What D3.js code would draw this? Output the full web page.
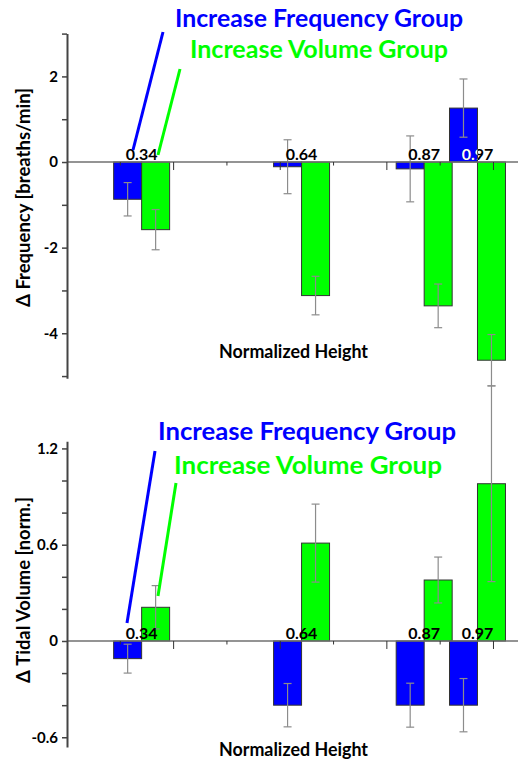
<!DOCTYPE html>
<html>
<head>
<meta charset="utf-8">
<script src="https://cdn.jsdelivr.net/npm/d3@7"></script>
<style>
  body { margin: 0; background: #fff; }
  svg { display: block; font-family: Lato, "Open Sans", sans-serif; }
</style>
</head>
<body>
<div id="chart"></div>
<script>
// normalized height of each group
var heights = [0.34, 0.64, 0.87, 0.97];
var heightLabels = ['0.34', '0.64', '0.87', '0.97'];

// frequency change (breaths/min)
var freqIncFreq = [-0.87, -0.11, -0.16, 1.26];
var freqIncFreqErr = [0.39, 0.63, 0.77, 0.68];
var freqIncVol = [-1.58, -3.12, -3.36, -4.63];
var freqIncVolErr = [0.47, 0.45, 0.51, 0.60];
var freqTicks = [-5, -4, -3, -2, -1, 0, 1, 2, 3];
var freqTickLabels = ['', '-4', '', '-2', '', '0', '', '2', ''];

// tidal volume change (normalized)
var tvIncFreq = [-0.11, -0.40, -0.40, -0.40];
var tvIncFreqErr = [0.09, 0.135, 0.137, 0.166];
var tvIncVol = [0.21, 0.61, 0.38, 0.98];
var tvIncVolErr = [0.135, 0.243, 0.143, 0.61];
var tvTicks = [-0.6, -0.4, -0.2, 0, 0.2, 0.4, 0.6, 0.8, 1.0, 1.2];
var tvTickLabels = ['-0.6', '', '', '0', '', '', '0.6', '', '', '1.2'];

// x ticks along the zero line
var xTicks = [0.3, 0.4, 0.5, 0.6, 0.7, 0.8, 0.9, 1.0];
var xMajor = [0.4, 0.6, 0.8, 1.0];

var seriesNames = ['Increase Frequency Group', 'Increase Volume Group'];
var blue = '#0000ff', green = '#00ff00';

var W = 518, H = 762;
var svg = d3.select('#chart').append('svg').attr('width', W).attr('height', H);

var x = d3.scaleLinear().domain([0.2, 1.046]).range([67, 518]);
var barW = 0.0525; // bar width in normalized-height units

var panels = [
  {
    id: 'freq', inc: freqIncFreq, incErr: freqIncFreqErr, vol: freqIncVol, volErr: freqIncVolErr,
    y: d3.scaleLinear().domain([-5.05, 3]).range([378.2, 33.6]),
    ticks: freqTicks, tickLabels: freqTickLabels,
    ylabel: 'Δ Frequency [breaths/min]', ylabelY: 197.5, ylabelLen: 219, xlabelY: 358,
    legend: [{x: 175, y: 27, len: 288}, {x: 190, y: 58, len: 258}],
    pointers: [[163, 32, 133, 150], [180, 69, 158, 155]]
  },
  {
    id: 'tv', inc: tvIncFreq, incErr: tvIncFreqErr, vol: tvIncVol, volErr: tvIncVolErr,
    y: d3.scaleLinear().domain([-0.66, 1.245]).range([746.9, 441.2]),
    ticks: tvTicks, tickLabels: tvTickLabels,
    ylabel: 'Δ Tidal Volume [norm.]', ylabelY: 590, ylabelLen: 186, xlabelY: 756,
    legend: [{x: 158, y: 440, len: 298}, {x: 174, y: 474, len: 268}],
    pointers: [[155, 451, 127, 623], [176, 483, 158, 596]]
  }
];

panels.forEach(function (p) {
  var y = p.y;
  var g = svg.append('g');
  var y0 = y(0);

  var rows = heights.map(function (h, i) {
    return [
      {h: h, x0: h - barW, v: p.inc[i], e: p.incErr[i], fill: blue, series: 0},
      {h: h, x0: h, v: p.vol[i], e: p.volErr[i], fill: green, series: 1}
    ];
  });
  var bars = [].concat.apply([], rows);

  // bars
  g.selectAll('rect.bar').data(bars).enter().append('rect')
    .attr('class', 'bar')
    .attr('x', function (d) { return x(d.x0); })
    .attr('width', function (d) { return x(d.x0 + barW) - x(d.x0); })
    .attr('y', function (d) { return Math.min(y(d.v), y0); })
    .attr('height', function (d) { return Math.abs(y(d.v) - y0); })
    .attr('fill', function (d) { return d.fill; })
    .attr('stroke', '#333')
    .attr('stroke-width', 1);

  // error bars
  var eb = g.selectAll('g.err').data(bars).enter().append('g')
    .attr('class', 'err')
    .attr('stroke', '#8c8c8c')
    .attr('stroke-width', 1.2);
  eb.append('line')
    .attr('x1', function (d) { return x(d.x0 + barW / 2); })
    .attr('x2', function (d) { return x(d.x0 + barW / 2); })
    .attr('y1', function (d) { return y(d.v + d.e); })
    .attr('y2', function (d) { return y(d.v - d.e); });
  [1, -1].forEach(function (s) {
    eb.append('line')
      .attr('x1', function (d) { return x(d.x0 + barW / 2) - 4; })
      .attr('x2', function (d) { return x(d.x0 + barW / 2) + 4; })
      .attr('y1', function (d) { return y(d.v + s * d.e); })
      .attr('y2', function (d) { return y(d.v + s * d.e); });
  });

  // zero line with ticks
  g.append('line')
    .attr('x1', x.range()[0]).attr('x2', W)
    .attr('y1', y0).attr('y2', y0)
    .attr('stroke', '#707070').attr('stroke-width', 1.6);
  g.selectAll('line.xt').data(xTicks).enter().append('line')
    .attr('class', 'xt')
    .attr('x1', function (d) { return x(d); })
    .attr('x2', function (d) { return x(d); })
    .attr('y1', y0)
    .attr('y2', function (d) { return y0 + (xMajor.indexOf(d) >= 0 ? 8 : 3.5); })
    .attr('stroke', '#333').attr('stroke-width', 1);

  // y axis
  var yAxis = d3.axisLeft(y).tickValues(p.ticks).tickSize(5).tickSizeOuter(0)
    .tickFormat(function (d, i) { return p.tickLabels[i]; });
  var ax = g.append('g').attr('transform', 'translate(' + x.range()[0] + ',0)').call(yAxis);
  ax.select('.domain').attr('stroke', '#444').attr('stroke-width', 2);
  ax.selectAll('.tick line').attr('stroke', '#444').attr('stroke-width', 1.5);
  ax.selectAll('.tick text')
    .attr('x', -9)
    .attr('fill', '#000')
    .style('font-family', 'Lato, sans-serif')
    .style('font-size', '15px')
    .style('font-weight', 'bold');

  // group labels on the zero line
  g.selectAll('text.hl').data(heights).enter().append('text')
    .attr('class', 'hl')
    .attr('x', function (d) { return x(d); })
    .attr('y', y0 - 2)
    .attr('text-anchor', 'middle')
    .attr('font-size', 16).attr('font-weight', 'bold')
    .text(function (d, i) { return heightLabels[i]; });

  // white where the label sits on a positive blue bar
  var clip = svg.append('clipPath').attr('id', 'clip-' + p.id);
  clip.selectAll('rect').data(bars.filter(function (d) { return d.series === 0 && d.v > 0; }))
    .enter().append('rect')
    .attr('x', function (d) { return x(d.x0); })
    .attr('width', function (d) { return x(d.x0 + barW) - x(d.x0); })
    .attr('y', function (d) { return y(d.v); })
    .attr('height', function (d) { return y0 - y(d.v); });
  g.append('g').attr('clip-path', 'url(#clip-' + p.id + ')')
    .selectAll('text').data(heights).enter().append('text')
    .attr('x', function (d) { return x(d); })
    .attr('y', y0 - 2)
    .attr('text-anchor', 'middle')
    .attr('font-size', 16).attr('font-weight', 'bold')
    .attr('fill', '#fff')
    .text(function (d, i) { return heightLabels[i]; });

  // axis titles
  g.append('text')
    .attr('x', 219).attr('y', p.xlabelY)
    .attr('font-size', 18).attr('font-weight', 'bold')
    .attr('textLength', 149).attr('lengthAdjust', 'spacingAndGlyphs')
    .text('Normalized Height');
  g.append('text')
    .attr('transform', 'translate(30,' + p.ylabelY + ') rotate(-90)')
    .attr('x', -p.ylabelLen / 2)
    .attr('font-size', 18).attr('font-weight', 'bold')
    .attr('textLength', p.ylabelLen).attr('lengthAdjust', 'spacingAndGlyphs')
    .text(p.ylabel);

  // legend callouts
  var cols = [blue, green];
  g.selectAll('line.ptr').data(p.pointers).enter().append('line')
    .attr('class', 'ptr')
    .attr('x1', function (d) { return d[0]; }).attr('y1', function (d) { return d[1]; })
    .attr('x2', function (d) { return d[2]; }).attr('y2', function (d) { return d[3]; })
    .attr('stroke', function (d, i) { return cols[i]; })
    .attr('stroke-width', 3);
  g.selectAll('text.lg').data(p.legend).enter().append('text')
    .attr('class', 'lg')
    .attr('x', function (d) { return d.x; })
    .attr('y', function (d) { return d.y; })
    .attr('font-size', 25).attr('font-weight', 'bold')
    .attr('textLength', function (d) { return d.len; })
    .attr('lengthAdjust', 'spacingAndGlyphs')
    .attr('fill', function (d, i) { return cols[i]; })
    .text(function (d, i) { return seriesNames[i]; });
});
</script>
</body>
</html>
